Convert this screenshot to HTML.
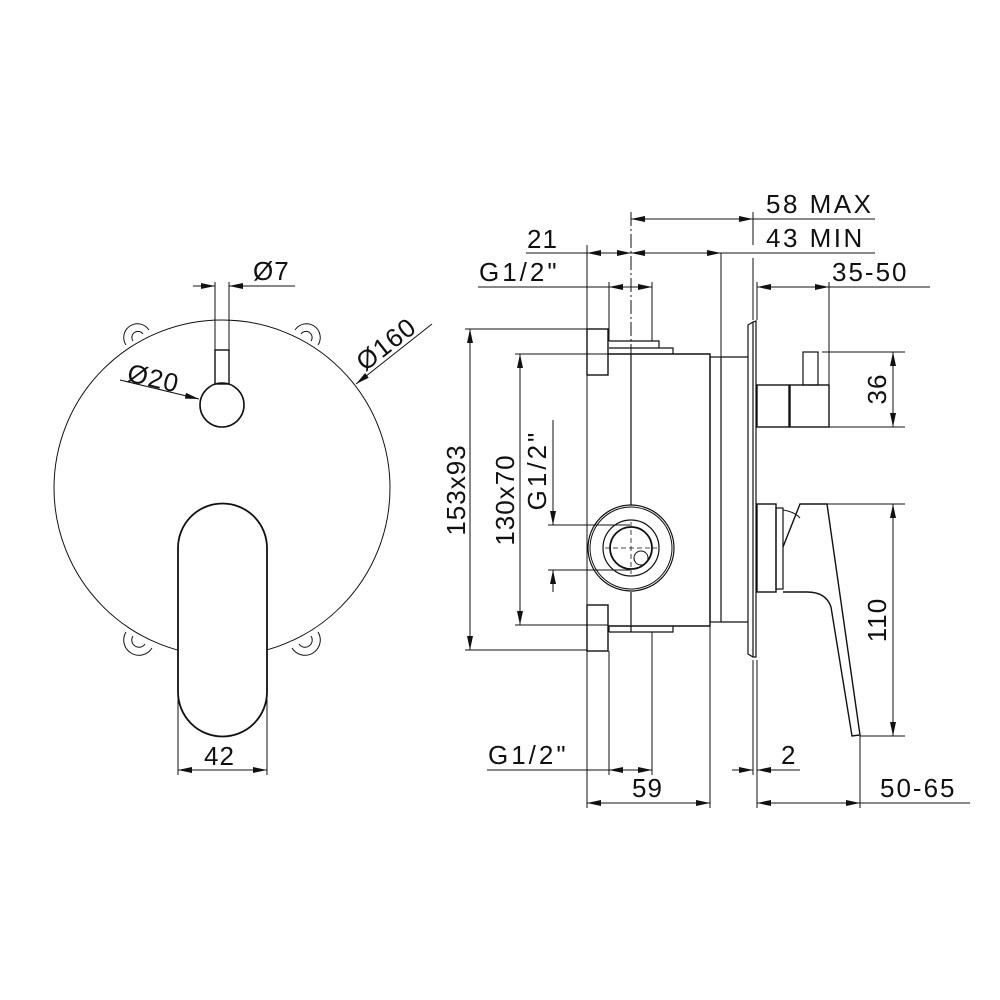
<!DOCTYPE html>
<html><head><meta charset="utf-8"><style>
html,body{margin:0;padding:0;background:#fff}
svg{display:block}
text{font-family:"Liberation Sans",sans-serif;font-size:26px;fill:#111;letter-spacing:1px}
</style></head><body>
<svg width="1000" height="1000" viewBox="0 0 1000 1000" xmlns="http://www.w3.org/2000/svg">
<defs>
<marker id="a" viewBox="0 0 14 6" refX="14" refY="3" markerWidth="14" markerHeight="6" markerUnits="userSpaceOnUse" orient="auto-start-reverse"><path d="M0,0 L14,3 L0,6 z" fill="#111"/></marker>
</defs>
<g fill="none" stroke="#111" stroke-width="1.2">
<!-- LEFT VIEW -->
<path d="M126,345 A13,13 0 1 1 149,330 M133,341 A6,6 0 1 1 143,334" stroke-width="1"/>
<path d="M295,330 A13,13 0 1 1 318,345 M301,334 A6,6 0 1 1 311,341" stroke-width="1"/>
<path d="M126,632 A13,13 0 1 0 152,648 M133,636 A6,6 0 1 0 145,644" stroke-width="1"/>
<path d="M292,648 A13,13 0 1 0 318,632 M299,644 A6,6 0 1 0 311,636" stroke-width="1"/>
<circle cx="222" cy="488" r="168" stroke-width="1" fill="#fff"/>
<!-- knob -->
<circle cx="222" cy="405" r="22" stroke-width="1.6"/>
<rect x="215" y="350" width="14" height="34" stroke-width="1.4"/>
<!-- handle -->
<path d="M178,548 A44.5,44.5 0 0 1 267,548 L267,692 A44.5,44.5 0 0 1 178,692 Z" stroke-width="1.8" fill="#fff"/>
<!-- dims left -->
<line x1="215" y1="282" x2="215" y2="350" stroke-width="1"/>
<line x1="229" y1="282" x2="229" y2="350" stroke-width="1"/>
<line x1="193" y1="286" x2="215" y2="286" marker-end="url(#a)" stroke-width="1"/>
<line x1="295" y1="286" x2="229" y2="286" marker-end="url(#a)" stroke-width="1"/>
<line x1="120" y1="380" x2="199" y2="399" marker-end="url(#a)" stroke-width="1"/>
<line x1="432" y1="324" x2="356" y2="384" marker-end="url(#a)" stroke-width="1"/>
<line x1="178" y1="692" x2="178" y2="775" stroke-width="1"/>
<line x1="267" y1="692" x2="267" y2="775" stroke-width="1"/>
<line x1="178" y1="770" x2="267" y2="770" marker-start="url(#a)" marker-end="url(#a)" stroke-width="1"/>

<!-- RIGHT VIEW body -->
<line x1="587" y1="245" x2="587" y2="808" stroke-width="1"/>
<rect x="587" y="329" width="21" height="46" stroke-width="1.4"/>
<rect x="587" y="605" width="21" height="46" stroke-width="1.4"/>
<path d="M608,354 L710,354 L710,626 L608,626" stroke-width="1.4"/>
<path d="M609,341 L659,341 L659,348 L673,348 L673,354 M609,348 L659,348" stroke-width="1.2"/>
<path d="M609,632 L673,632 L673,626 M609,626 L609,632" stroke-width="1.2"/>
<line x1="631" y1="212" x2="631" y2="354" stroke-width="1" stroke-dasharray="14,3,2,3"/>
<line x1="631" y1="354" x2="631" y2="505" stroke-width="1.2"/>
<line x1="631" y1="592" x2="631" y2="632" stroke-width="1.2"/>
<rect x="710" y="357" width="11" height="265" stroke-width="1.2"/>
<path d="M721,357 L748,357 M721,622 L748,622" stroke-width="1.2"/>
<path d="M748,325 L753,322 L756,321 L756,657 L753,657 L748,654 Z M753,322 L753,657" stroke-width="1.2"/>
<!-- fitting -->
<circle cx="631" cy="548" r="43" stroke-width="1.2"/>
<circle cx="631" cy="548" r="41" stroke-width="1"/>
<circle cx="631" cy="548" r="28" stroke-width="1.2"/>
<circle cx="631" cy="548" r="21" stroke-width="1.8"/>
<circle cx="641" cy="558" r="7" stroke-width="1"/>
<path d="M605,548 L657,548 M631,522 L631,574" stroke-width="0.8" stroke-dasharray="5,3"/>
<!-- upper spout -->
<rect x="757" y="385" width="32" height="42" stroke-width="1.4"/>
<rect x="790" y="385" width="39" height="42" stroke-width="1.4"/>
<rect x="803" y="352" width="15" height="33" stroke-width="1.2"/>
<!-- lower handle -->
<rect x="757" y="504" width="19" height="88" stroke-width="1.4"/>
<rect x="776" y="508" width="7" height="81" stroke-width="1.2"/>
<path d="M783,547 L800,504 L827,504 L860,735 L852,736 L831,607 Q826,592 807,592 L783,592" stroke-width="1.4"/>
<path d="M783,510 Q795,512 800,518" stroke-width="1"/>
<!-- dims right: top -->
<line x1="721" y1="253" x2="721" y2="357" stroke-width="1"/>
<line x1="753" y1="212" x2="753" y2="245" stroke-width="1"/>
<line x1="753" y1="258" x2="753" y2="320" stroke-width="1"/>
<line x1="631" y1="219" x2="753" y2="219" marker-start="url(#a)" marker-end="url(#a)" stroke-width="1"/>
<line x1="753" y1="219" x2="875" y2="219" stroke-width="1"/>
<line x1="526" y1="253" x2="875" y2="253" stroke-width="1"/>
<line x1="587" y1="253" x2="631" y2="253" marker-start="url(#a)" marker-end="url(#a)" stroke-width="1"/>
<line x1="631" y1="253" x2="721" y2="253" marker-start="url(#a)" marker-end="url(#a)" stroke-width="1"/>
<line x1="609" y1="282" x2="609" y2="341" stroke-width="1"/>
<line x1="652" y1="282" x2="652" y2="341" stroke-width="1"/>
<line x1="478" y1="287" x2="652" y2="287" stroke-width="1"/>
<line x1="609" y1="287" x2="652" y2="287" marker-start="url(#a)" marker-end="url(#a)" stroke-width="1"/>
<line x1="757" y1="282" x2="757" y2="320" stroke-width="1"/>
<line x1="829" y1="282" x2="829" y2="385" stroke-width="1"/>
<line x1="757" y1="287" x2="829" y2="287" marker-start="url(#a)" marker-end="url(#a)" stroke-width="1"/>
<line x1="829" y1="287" x2="930" y2="287" stroke-width="1"/>
<!-- 36 -->
<line x1="822" y1="352" x2="905" y2="352" stroke-width="1"/>
<line x1="829" y1="427" x2="905" y2="427" stroke-width="1"/>
<line x1="893" y1="352" x2="893" y2="427" marker-start="url(#a)" marker-end="url(#a)" stroke-width="1"/>
<!-- 110 -->
<line x1="827" y1="504" x2="905" y2="504" stroke-width="1"/>
<line x1="860" y1="736" x2="905" y2="736" stroke-width="1"/>
<line x1="893" y1="504" x2="893" y2="736" marker-start="url(#a)" marker-end="url(#a)" stroke-width="1"/>
<!-- left dims -->
<line x1="465" y1="329" x2="587" y2="329" stroke-width="1"/>
<line x1="465" y1="650" x2="587" y2="650" stroke-width="1"/>
<line x1="470" y1="329" x2="470" y2="650" marker-start="url(#a)" marker-end="url(#a)" stroke-width="1"/>
<line x1="515" y1="354" x2="608" y2="354" stroke-width="1"/>
<line x1="515" y1="625" x2="608" y2="625" stroke-width="1"/>
<line x1="520" y1="354" x2="520" y2="625" marker-start="url(#a)" marker-end="url(#a)" stroke-width="1"/>
<line x1="548" y1="525" x2="630" y2="525" stroke-width="1"/>
<line x1="548" y1="570" x2="630" y2="570" stroke-width="1"/>
<line x1="553" y1="420" x2="553" y2="525" stroke-width="1"/>
<line x1="553" y1="505" x2="553" y2="525" marker-end="url(#a)" stroke-width="1"/>
<line x1="553" y1="590" x2="553" y2="570" marker-end="url(#a)" stroke-width="1"/>
<line x1="553" y1="570" x2="553" y2="592" stroke-width="1"/>
<!-- bottom dims -->
<line x1="609" y1="651" x2="609" y2="775" stroke-width="1"/>
<line x1="652" y1="632" x2="652" y2="775" stroke-width="1"/>
<line x1="487" y1="770" x2="652" y2="770" stroke-width="1"/>
<line x1="609" y1="770" x2="652" y2="770" marker-start="url(#a)" marker-end="url(#a)" stroke-width="1"/>
<line x1="710" y1="626" x2="710" y2="808" stroke-width="1"/>
<line x1="587" y1="803" x2="710" y2="803" marker-start="url(#a)" marker-end="url(#a)" stroke-width="1"/>
<line x1="753" y1="660" x2="753" y2="775" stroke-width="1"/>
<line x1="757" y1="660" x2="757" y2="808" stroke-width="1"/>
<line x1="732" y1="770" x2="753" y2="770" marker-end="url(#a)" stroke-width="1"/>
<line x1="800" y1="770" x2="757" y2="770" marker-end="url(#a)" stroke-width="1"/>
<line x1="860" y1="736" x2="860" y2="808" stroke-width="1"/>
<line x1="757" y1="803" x2="860" y2="803" marker-start="url(#a)" marker-end="url(#a)" stroke-width="1"/>
<line x1="860" y1="803" x2="970" y2="803" stroke-width="1"/>
</g>
<!-- text -->
<text x="253" y="280">Ø7</text>
<text x="126" y="381" transform="rotate(13 126 381)">Ø20</text>
<text x="365" y="372" transform="rotate(-38 365 372)">Ø160</text>
<text x="204" y="765">42</text>
<text x="766" y="213" style="letter-spacing:2.5px">58 MAX</text>
<text x="766" y="247" style="letter-spacing:2.5px">43 MIN</text>
<text x="527" y="248">21</text>
<text x="479" y="281" style="letter-spacing:3px">G1/2"</text>
<text x="832" y="281" style="letter-spacing:2px">35-50</text>
<text x="886" y="389" text-anchor="middle" transform="rotate(-90 886 389)">36</text>
<text x="886" y="620" text-anchor="middle" transform="rotate(-90 886 620)">110</text>
<text x="465" y="490" text-anchor="middle" transform="rotate(-90 465 490)">153x93</text>
<text x="514" y="500" text-anchor="middle" transform="rotate(-90 514 500)">130x70</text>
<text x="546" y="470" text-anchor="middle" transform="rotate(-90 546 470)" style="letter-spacing:3px">G1/2"</text>
<text x="488" y="764" style="letter-spacing:3px">G1/2"</text>
<text x="632" y="797">59</text>
<text x="781" y="764">2</text>
<text x="880" y="797" style="letter-spacing:2px">50-65</text>
</svg>
</body></html>
